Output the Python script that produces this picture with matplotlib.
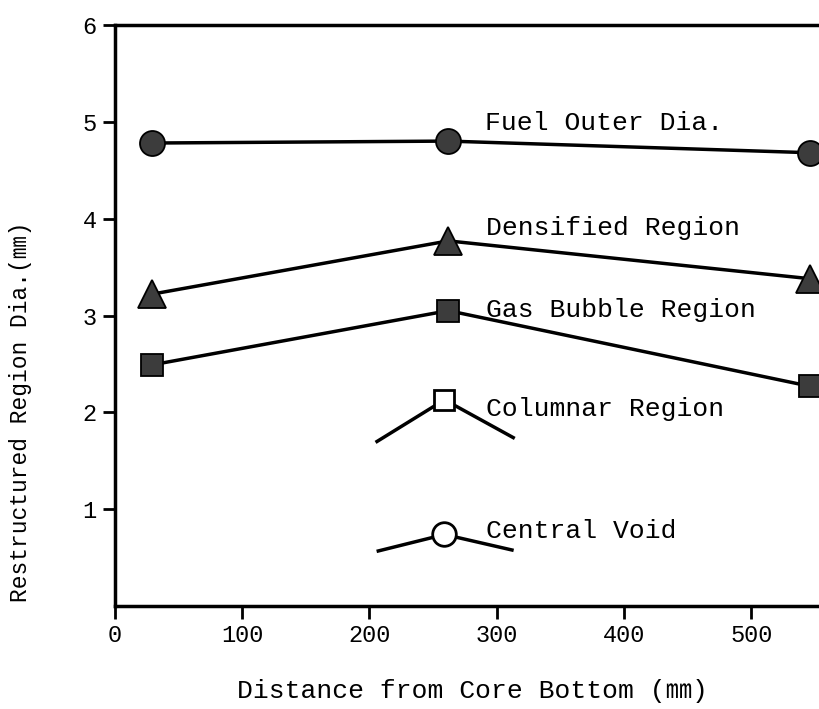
import matplotlib
matplotlib.use("Agg")
import matplotlib.pyplot as plt

# distance from core bottom (mm) and region diameters (mm)
dist = [29, 262, 546]
fuel_outer = [4.78, 4.80, 4.68]
densified = [3.22, 3.77, 3.38]
gas_bubble = [2.49, 3.05, 2.27]

# short partial curves for columnar region and central void
col_x = [206, 259, 313]
columnar = [1.70, 2.13, 1.74]
void_x = [207, 259, 312]
central_void = [0.57, 0.74, 0.58]

labels = ["Fuel Outer Dia.", "Densified Region", "Gas Bubble Region",
          "Columnar Region", "Central Void"]
label_x = [291, 292, 292, 292, 292]
label_y = [4.99, 3.90, 3.06, 2.03, 0.78]

xticks = [0, 100, 200, 300, 400, 500]
yticks = [1, 2, 3, 4, 5, 6]

FONT = ["Liberation Mono", "Noto Sans CJK JP", "DejaVu Sans"]
plt.rcParams["font.family"] = FONT

fig = plt.figure(figsize=(8.2, 7.09), dpi=100)
ax = fig.add_axes([0.140, 0.145, 0.860, 0.820])

lw = 2.5
ax.plot(dist, fuel_outer, "-o", color="black", lw=lw, ms=18,
        mfc="#3c3c3c", mec="black", mew=1.3, clip_on=False, zorder=3)
ax.plot(dist, densified, "-^", color="black", lw=lw, ms=20,
        mfc="#3c3c3c", mec="black", mew=1.3, clip_on=False, zorder=3)
ax.plot(dist, gas_bubble, "-s", color="black", lw=lw, ms=16,
        mfc="#3c3c3c", mec="black", mew=1.3, clip_on=False, zorder=3)
ax.plot(col_x, columnar, "-", color="black", lw=lw, zorder=2)
ax.plot(col_x[1], columnar[1], "s", ms=15, mfc="white", mec="black",
        mew=2, zorder=3)
ax.plot(void_x, central_void, "-", color="black", lw=lw, zorder=2)
ax.plot(void_x[1], central_void[1], "o", ms=17, mfc="white", mec="black",
        mew=2, zorder=3)

for t, x, y in zip(labels, label_x, label_y):
    ax.text(x, y, t, fontsize=19, va="center", ha="left")

ax.set_xlim(0, 554)
ax.set_ylim(0, 6)
ax.set_xticks(xticks)
ax.set_yticks(yticks)
ax.tick_params(direction="out", length=9, width=2, labelsize=17, pad=4)
ax.spines["right"].set_visible(False)
for s in ["left", "bottom", "top"]:
    ax.spines[s].set_linewidth(2.5)

ax.set_xlabel("Distance from Core Bottom (㎜)", fontsize=19)
ax.xaxis.set_label_coords(0.507, -0.125)
ax.set_ylabel("Restructured Region Dia.(㎜)", fontsize=16.5)
ax.yaxis.set_label_coords(-0.118, 0.334)

fig.savefig("out.png", dpi=100)
